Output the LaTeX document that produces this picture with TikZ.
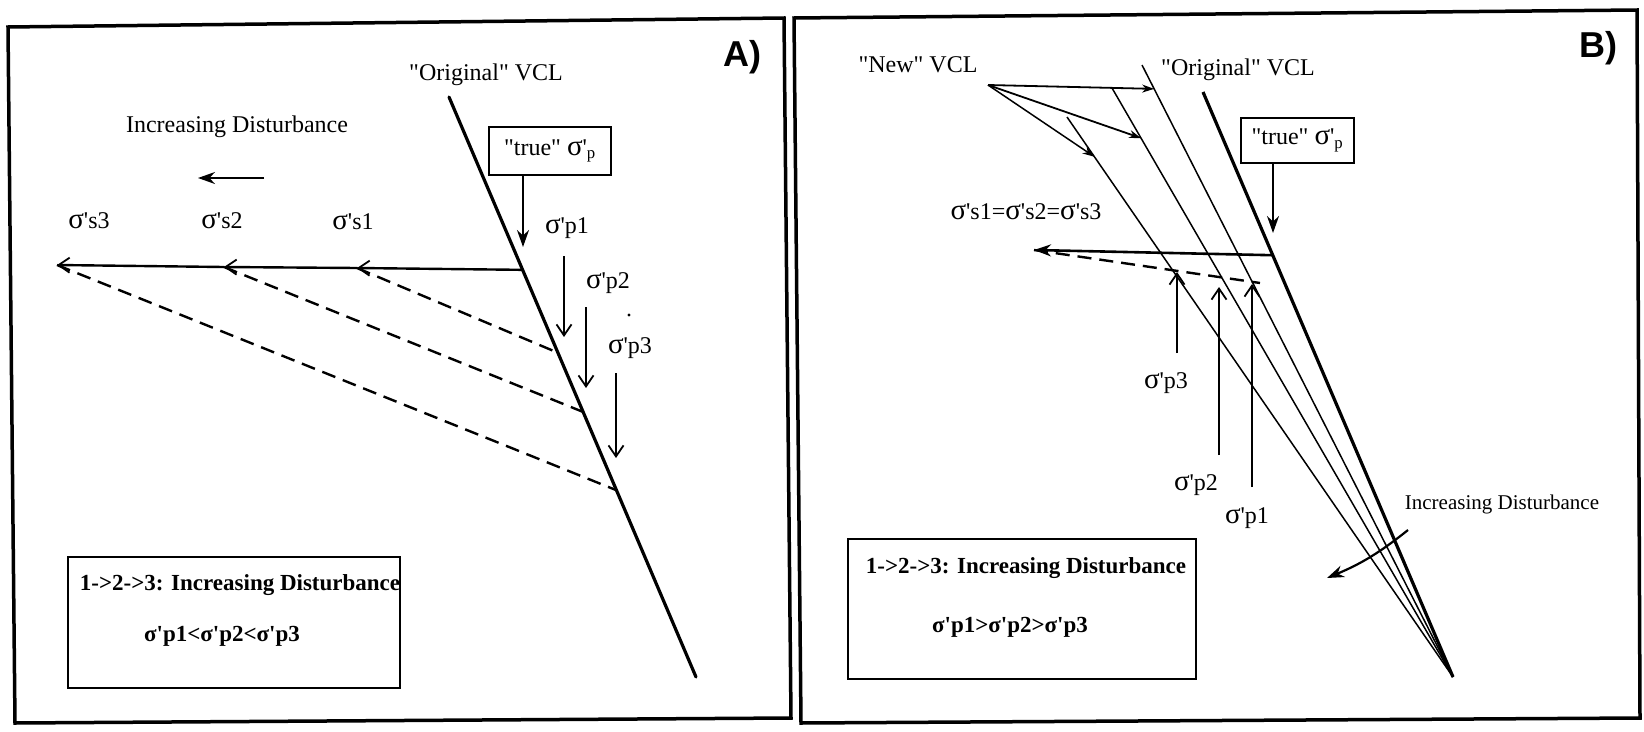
\documentclass[tikz,border=0pt]{standalone}
\usepackage{fontspec}
\setmainfont{Liberation Serif}[Ligatures=TeXOff]
\newfontfamily\panelfont{Liberation Sans}
\usetikzlibrary{arrows.meta,calc}
\newcommand{\bigsg}{{\fontsize{29}{29}\selectfont σ}}
\begin{document}
\begin{tikzpicture}[x=1pt,y=-1pt,
  frame/.style={line width=3.5pt, line join=miter},
  vcl/.style={line width=3.2pt},
  thinline/.style={line width=1.6pt},
  dashline/.style={line width=2.4pt, dash pattern=on 14pt off 8pt},
  barb/.style={-{Straight Barb[length=11pt,width=15pt,line width=1.8pt]}},
  tri/.style={-{Stealth[length=17pt,width=12pt]}},
  smalltri/.style={-{Stealth[length=12pt,width=8pt]}},
  lbl/.style={font=\fontsize{24}{28}\selectfont, inner sep=0pt},
  smalllbl/.style={font=\fontsize{21}{25}\selectfont, inner sep=0pt},
  boxtxt/.style={font=\bfseries\fontsize{23}{27}\selectfont, inner sep=0pt},
  panellbl/.style={font=\panelfont\bfseries\fontsize{36}{40}\selectfont, inner sep=0pt},
  infobox/.style={draw, line width=2.6pt}]
\useasboundingbox (0,0) rectangle (1644,731);
% ---------- frames ----------
\draw[frame] (8,27) -- (784,18) -- (791,718) -- (15,723) -- cycle;
\draw[frame] (794,18) -- (1637,10) -- (1640,718) -- (801,723) -- cycle;
% ================= Panel A =================
\node[panellbl] (labA) at (742,57) {A)};
\node[lbl] (origA) at (486,75) {"Original" VCL};
\coordinate (vA1) at (449,97);
\coordinate (vA2) at (696,677);
\draw[vcl, line cap=round] (vA1) -- (vA2);
\node[lbl] (incA) at (237,127) {Increasing Disturbance};
\coordinate (iaS) at (264,178);
\coordinate (iaE) at (198,178);
\draw[thinline, tri] (iaS) -- (iaE);
\node[draw, line width=2.4pt, minimum width=122pt, minimum height=48pt, lbl] (trueA) at (550,151) {"true" \bigsg'\textsubscript{p}};
\coordinate (tA) at (523,247);
\draw[thinline, tri] (trueA.south -| tA) -- (tA);
\node[lbl] (s3) at (89,221) {\bigsg's3};
\node[lbl] (s2) at (222,221) {\bigsg's2};
\node[lbl] (s1) at (353,222) {\bigsg's1};
\coordinate (hA0) at ($(vA1)!0.298!(vA2)$);
\coordinate (hs1) at (357,268);
\coordinate (hs2) at (224,267);
\coordinate (hs3) at (57,265);
\draw[line width=2.4pt, barb] (hA0) -- (hs1);
\draw[line width=2.4pt, barb] (hs1) -- (hs2);
\draw[line width=2.4pt, barb] (hs2) -- (hs3);
\coordinate (dA1) at ($(vA1)!0.441!(vA2)$);
\coordinate (dA2) at ($(vA1)!0.543!(vA2)$);
\coordinate (dA3) at ($(vA1)!0.678!(vA2)$);
\draw[dashline] (hs1) -- (dA1);
\draw[dashline] (hs2) -- (dA2);
\draw[dashline] (hs3) -- (dA3);
\node[lbl] (p1A) at (567,228) {\bigsg'p1};
\node[lbl] (p2A) at (608,283) {\bigsg'p2};
\node[lbl] (p3A) at (630,348) {\bigsg'p3};
\coordinate (a1s) at (564,256); \coordinate (a1e) at (564,337);
\coordinate (a2s) at (586,307); \coordinate (a2e) at (586,388);
\coordinate (a3s) at (616,373); \coordinate (a3e) at (616,458);
\draw[thinline, barb] (a1s) -- (a1e);
\draw[thinline, barb] (a2s) -- (a2e);
\draw[thinline, barb] (a3s) -- (a3e);
\fill (629,315) circle (1.6pt);
\node[infobox, minimum width=332pt, minimum height=131pt] (boxA) at (234,622.5) {};
\node[boxtxt] (bA1) at (240,585) {1->2->3: Increasing Disturbance};
\node[boxtxt] (bA2) at (222,636) {σ'p1<σ'p2<σ'p3};
% ================= Panel B =================
\node[panellbl] (labB) at (1598,48) {B)};
\node[lbl] (newB) at (918,65) {"New" VCL};
\node[lbl] (origB) at (1238,70) {"Original" VCL};
\coordinate (C) at (1453,677);
\coordinate (la) at (1142,65);
\coordinate (lb) at (1112,88);
\coordinate (lc) at (1067,117);
\coordinate (lt) at (1203,92);
\draw[line width=1.5pt] (la) -- (C);
\draw[line width=1.5pt] (lb) -- (C);
\draw[line width=1.5pt] (lc) -- (C);
\draw[vcl] (lt) -- (C);
\coordinate (N) at (988,85);
\draw[line width=1.8pt, smalltri] (N) -- ($(la)!0.039!(C)$);
\draw[line width=1.8pt, smalltri] (N) -- ($(lb)!0.085!(C)$);
\draw[line width=1.5pt, smalltri] (N) -- ($(lc)!0.071!(C)$);
\node[draw, line width=2.4pt, minimum width=113pt, minimum height=45pt, lbl] (trueB) at (1297.5,140.5) {"true" \bigsg'\textsubscript{p}};
\coordinate (tB) at (1273,233);
\draw[thinline, tri] (trueB.south -| tB) -- (tB);
\node[lbl] (sB) at (1026,212) {\bigsg's1=\bigsg's2=\bigsg's3};
\coordinate (hB0) at ($(lt)!0.279!(C)$);
\coordinate (hB1) at (1034,250);
\draw[line width=2.6pt, tri] (hB0) -- (hB1);
\coordinate (dB) at (1260,283);
\draw[dashline] (hB1) -- (dB);
\coordinate (u3s) at (1177,353); \coordinate (u3e) at (1177,272);
\coordinate (u2s) at (1219,455); \coordinate (u2e) at (1219,287);
\coordinate (u1s) at (1252,487); \coordinate (u1e) at (1252,284);
\draw[thinline, barb] (u3s) -- (u3e);
\draw[thinline, barb] (u2s) -- (u2e);
\draw[thinline, barb] (u1s) -- (u1e);
\node[lbl] (p3B) at (1166,383) {\bigsg'p3};
\node[lbl] (p2B) at (1196,485) {\bigsg'p2};
\node[lbl] (p1B) at (1247,518) {\bigsg'p1};
\node[smalllbl] (incB) at (1502,504) {Increasing Disturbance};
\coordinate (cS) at (1408,530);
\coordinate (cE) at (1327,578);
\draw[line width=2.2pt, tri] (cS) to[bend left=8] (cE);
\node[infobox, minimum width=348pt, minimum height=140pt] (boxB) at (1022,609) {};
\node[boxtxt] (bB1) at (1026,568) {1->2->3: Increasing Disturbance};
\node[boxtxt] (bB2) at (1010,627) {σ'p1>σ'p2>σ'p3};
\end{tikzpicture}
\end{document}
